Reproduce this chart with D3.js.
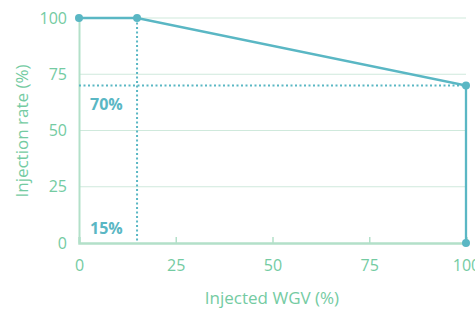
<!DOCTYPE html>
<html>
<head>
<meta charset="utf-8">
<script src="https://cdn.jsdelivr.net/npm/d3@7"></script>
<style>
  body { margin: 0; background: #fff; }
  text { font-family: "Open Sans", sans-serif; }
</style>
</head>
<body>
<svg id="chart" width="475" height="309"></svg>
<script>
// data
const injectedWGV = [0, 15, 100, 100];
const injectionRate = [100, 100, 70, 0];
const xTicks = [0, 25, 50, 75, 100];
const yTicks = [0, 25, 50, 75, 100];
const markX = 15;
const markY = 70;

const margin = {top: 18, right: 9, bottom: 66, left: 79},
  width = 475 - margin.left - margin.right,
  height = 309 - margin.top - margin.bottom;

const axisColor = "#b3e0c9";
const textColor = "#74cba2";
const lineColor = "#5ab7c4";

const svg = d3.select("#chart");
const g = svg.append("g").attr("transform", "translate(" + margin.left + "," + margin.top + ")");

const x = d3.scaleLinear().domain([0, 100]).range([0, width]);
const y = d3.scaleLinear().domain([0, 100]).range([height, 0]);

// gridlines
g.selectAll(".grid")
  .data(yTicks.filter(d => d > 0))
  .enter()
  .append("line")
  .attr("x1", 0).attr("x2", width)
  .attr("y1", d => y(d)).attr("y2", d => y(d))
  .attr("stroke", "#cfe9dc")
  .attr("stroke-width", 1.2);

// y axis
const yAxis = d3.axisLeft(y).tickValues(yTicks).tickSize(0).tickPadding(12);
const yg = g.append("g").call(yAxis);
yg.select(".domain").attr("stroke", axisColor).attr("stroke-width", 2);
yg.selectAll("text").attr("fill", textColor).style("font-size", "16px");

// x axis
const xAxis = d3.axisBottom(x).tickValues(xTicks).tickSize(-6).tickPadding(17);
const xg = g.append("g").attr("transform", "translate(0," + height + ")").call(xAxis);
xg.select(".domain").attr("stroke", axisColor).attr("stroke-width", 2.5);
xg.selectAll(".tick line").attr("stroke", axisColor).attr("stroke-width", 1.5)
  .attr("display", d => (d === 0 || d === 100) ? "none" : null);
xg.selectAll("text").attr("fill", textColor).style("font-size", "16px");

// dotted guides
g.append("line")
  .attr("x1", x(0)).attr("x2", x(100))
  .attr("y1", y(markY)).attr("y2", y(markY))
  .attr("stroke", lineColor).attr("stroke-width", 2)
  .attr("stroke-dasharray", "2,2.5");
g.append("line")
  .attr("x1", x(markX)).attr("x2", x(markX))
  .attr("y1", y(100)).attr("y2", y(0))
  .attr("stroke", lineColor).attr("stroke-width", 2)
  .attr("stroke-dasharray", "2,2.5");

// data line
const pts = injectedWGV.map((d, i) => [d, injectionRate[i]]);
g.append("path")
  .datum(pts)
  .attr("fill", "none")
  .attr("stroke", lineColor)
  .attr("stroke-width", 2.3)
  .attr("d", d3.line().x(d => x(d[0])).y(d => y(d[1])));

g.selectAll(".dot")
  .data(pts)
  .enter()
  .append("circle")
  .attr("cx", d => x(d[0]))
  .attr("cy", d => y(d[1]))
  .attr("r", 4)
  .attr("fill", lineColor);

// annotations
g.append("text")
  .attr("x", 11).attr("y", y(markY) + 24)
  .attr("fill", lineColor)
  .style("font-size", "16px").style("font-weight", "bold")
  .text(markY + "%");
g.append("text")
  .attr("x", 11).attr("y", y(0) - 9)
  .attr("fill", lineColor)
  .style("font-size", "16px").style("font-weight", "bold")
  .text(markX + "%");

// axis titles
svg.append("text")
  .attr("x", 272)
  .attr("y", 304)
  .attr("text-anchor", "middle")
  .attr("fill", textColor)
  .style("font-size", "17px")
  .text("Injected WGV (%)");
svg.append("text")
  .attr("transform", "rotate(-90)")
  .attr("x", -131)
  .attr("y", 28)
  .attr("text-anchor", "middle")
  .attr("fill", textColor)
  .style("font-size", "17px")
  .text("Injection rate (%)");
</script>
</body>
</html>
